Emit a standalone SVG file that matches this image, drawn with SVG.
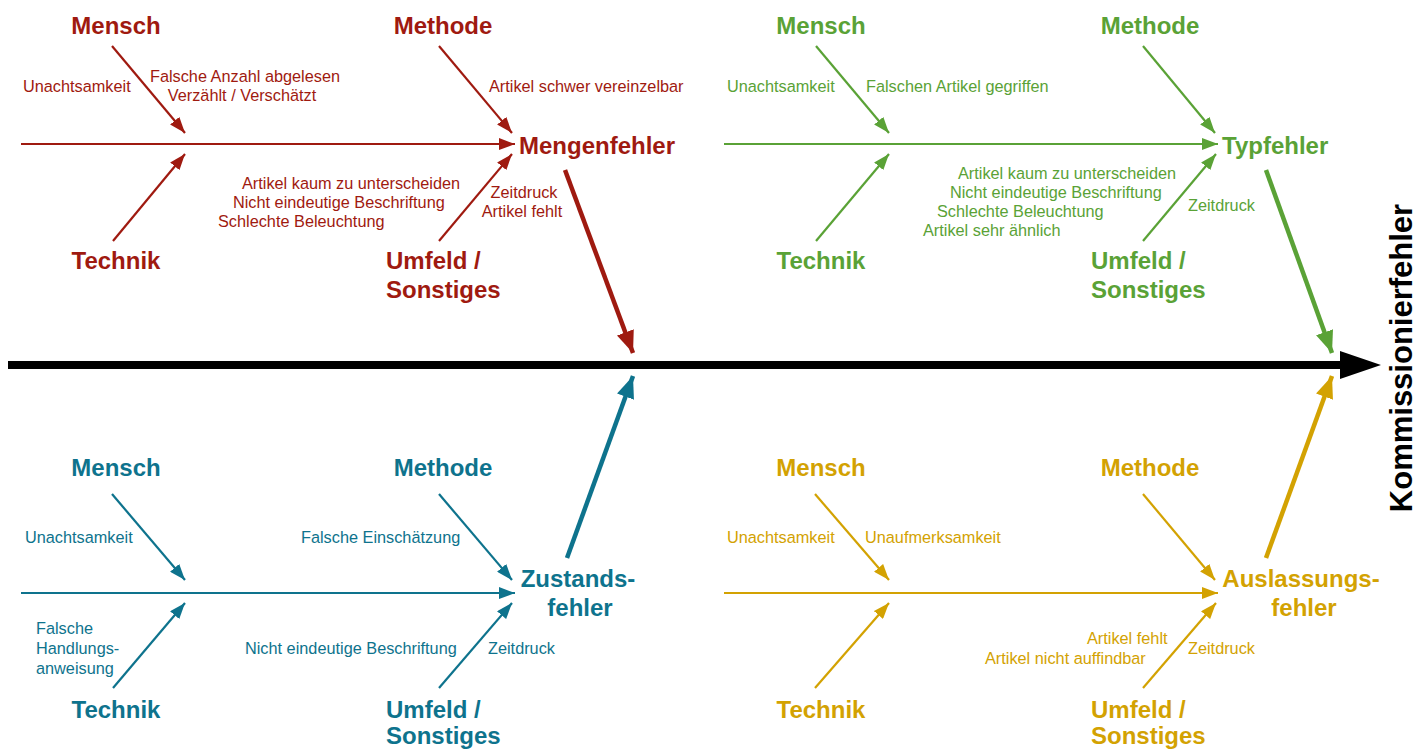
<svg xmlns="http://www.w3.org/2000/svg" width="1427" height="749" viewBox="0 0 1427 749">
<style>
.lbl{font-family:"Liberation Sans",Arial,sans-serif;font-weight:bold;font-size:24px}
.sm{font-family:"Liberation Sans",Arial,sans-serif;font-size:16.3px}
.mid{text-anchor:middle}
.red{fill:#9f1a10}.grn{fill:#5aa236}.tea{fill:#0e738d}.gld{fill:#d3a202}
.lr{stroke:#9f1a10}.lg{stroke:#5aa236}.lt{stroke:#0e738d}.ly{stroke:#d3a202}
.thin{stroke-width:2.2;fill:none}
.thick{stroke-width:4.5;fill:none}
</style>
<defs>
<marker id="ar" markerUnits="userSpaceOnUse" markerWidth="16" markerHeight="12" refX="16" refY="6" orient="auto"><path d="M0,0L16,6L0,12z" fill="#9f1a10"/></marker>
<marker id="ag" markerUnits="userSpaceOnUse" markerWidth="16" markerHeight="12" refX="16" refY="6" orient="auto"><path d="M0,0L16,6L0,12z" fill="#5aa236"/></marker>
<marker id="at" markerUnits="userSpaceOnUse" markerWidth="16" markerHeight="12" refX="16" refY="6" orient="auto"><path d="M0,0L16,6L0,12z" fill="#0e738d"/></marker>
<marker id="ay" markerUnits="userSpaceOnUse" markerWidth="16" markerHeight="12" refX="16" refY="6" orient="auto"><path d="M0,0L16,6L0,12z" fill="#d3a202"/></marker>
<marker id="br" markerUnits="userSpaceOnUse" markerWidth="22" markerHeight="18" refX="22" refY="9" orient="auto"><path d="M0,0L22,9L0,18z" fill="#9f1a10"/></marker>
<marker id="bg" markerUnits="userSpaceOnUse" markerWidth="22" markerHeight="18" refX="22" refY="9" orient="auto"><path d="M0,0L22,9L0,18z" fill="#5aa236"/></marker>
<marker id="bt" markerUnits="userSpaceOnUse" markerWidth="22" markerHeight="18" refX="22" refY="9" orient="auto"><path d="M0,0L22,9L0,18z" fill="#0e738d"/></marker>
<marker id="by" markerUnits="userSpaceOnUse" markerWidth="22" markerHeight="18" refX="22" refY="9" orient="auto"><path d="M0,0L22,9L0,18z" fill="#d3a202"/></marker>
</defs>
<rect width="1427" height="749" fill="#ffffff"/>

<g id="connectors">
  <line class="lr thin" x1="21" y1="144" x2="515" y2="144" marker-end="url(#ar)"/>
  <line class="lr thin" x1="112" y1="46" x2="185" y2="133" marker-end="url(#ar)"/>
  <line class="lr thin" x1="113" y1="241" x2="185" y2="154" marker-end="url(#ar)"/>
  <line class="lr thin" x1="439" y1="46" x2="512" y2="133" marker-end="url(#ar)"/>
  <line class="lr thin" x1="439" y1="241" x2="512" y2="154" marker-end="url(#ar)"/>
  <line class="lr thick" x1="565" y1="170" x2="633" y2="353" marker-end="url(#br)"/>
  <line class="lg thin" x1="724" y1="144" x2="1218" y2="144" marker-end="url(#ag)"/>
  <line class="lg thin" x1="816" y1="46" x2="889" y2="133" marker-end="url(#ag)"/>
  <line class="lg thin" x1="816" y1="241" x2="889" y2="154" marker-end="url(#ag)"/>
  <line class="lg thin" x1="1143" y1="46" x2="1215" y2="133" marker-end="url(#ag)"/>
  <line class="lg thin" x1="1143" y1="241" x2="1216" y2="154" marker-end="url(#ag)"/>
  <line class="lg thick" x1="1266" y1="170" x2="1332" y2="353" marker-end="url(#bg)"/>
  <line class="lt thin" x1="21" y1="593" x2="515" y2="593" marker-end="url(#at)"/>
  <line class="lt thin" x1="112" y1="494" x2="185" y2="580" marker-end="url(#at)"/>
  <line class="lt thin" x1="113" y1="688" x2="185" y2="603" marker-end="url(#at)"/>
  <line class="lt thin" x1="439" y1="494" x2="512" y2="580" marker-end="url(#at)"/>
  <line class="lt thin" x1="439" y1="688" x2="512" y2="603" marker-end="url(#at)"/>
  <line class="lt thick" x1="567" y1="558" x2="633" y2="376" marker-end="url(#bt)"/>
  <line class="ly thin" x1="724" y1="593" x2="1218" y2="593" marker-end="url(#ay)"/>
  <line class="ly thin" x1="815" y1="494" x2="889" y2="580" marker-end="url(#ay)"/>
  <line class="ly thin" x1="815" y1="688" x2="889" y2="603" marker-end="url(#ay)"/>
  <line class="ly thin" x1="1143" y1="494" x2="1215" y2="580" marker-end="url(#ay)"/>
  <line class="ly thin" x1="1143" y1="688" x2="1216" y2="603" marker-end="url(#ay)"/>
  <line class="ly thick" x1="1266" y1="558" x2="1332" y2="376" marker-end="url(#by)"/>
  <line x1="8" y1="365" x2="1344" y2="365" stroke="#000" stroke-width="8"/>
  <polygon points="1340,351 1381,365 1340,379" fill="#000"/>
</g>

<g id="effect">
  <text class="lbl" transform="translate(1412,358) rotate(-90)" text-anchor="middle" style="font-size:31px">Kommissionierfehler</text>
</g>

<g id="mengenfehler">
  <text class="lbl red" x="519" y="154">Mengenfehler</text>
  <text class="lbl red mid" x="116" y="34">Mensch</text>
  <text class="lbl red mid" x="443" y="34">Methode</text>
  <text class="lbl red mid" x="116" y="269">Technik</text>
  <text class="lbl red" x="386" y="269">Umfeld /</text>
  <text class="lbl red" x="386" y="298">Sonstiges</text>
  <text class="sm red" x="23" y="92">Unachtsamkeit</text>
  <text class="sm red mid" x="245" y="82">Falsche Anzahl abgelesen</text>
  <text class="sm red mid" x="242" y="101">Verzählt / Verschätzt</text>
  <text class="sm red" x="489" y="92">Artikel schwer vereinzelbar</text>
  <text class="sm red" x="242" y="189">Artikel kaum zu unterscheiden</text>
  <text class="sm red" x="233" y="208">Nicht eindeutige Beschriftung</text>
  <text class="sm red" x="218" y="227">Schlechte Beleuchtung</text>
  <text class="sm red mid" x="524" y="198">Zeitdruck</text>
  <text class="sm red mid" x="522" y="217">Artikel fehlt</text>
</g>

<g id="typfehler">
  <text class="lbl grn" x="1222" y="154">Typfehler</text>
  <text class="lbl grn mid" x="821" y="34">Mensch</text>
  <text class="lbl grn mid" x="1150" y="34">Methode</text>
  <text class="lbl grn mid" x="821" y="269">Technik</text>
  <text class="lbl grn" x="1091" y="269">Umfeld /</text>
  <text class="lbl grn" x="1091" y="298">Sonstiges</text>
  <text class="sm grn" x="727" y="92">Unachtsamkeit</text>
  <text class="sm grn" x="866" y="92">Falschen Artikel gegriffen</text>
  <text class="sm grn" x="958" y="179">Artikel kaum zu unterscheiden</text>
  <text class="sm grn" x="950" y="198">Nicht eindeutige Beschriftung</text>
  <text class="sm grn" x="937" y="217">Schlechte Beleuchtung</text>
  <text class="sm grn" x="923" y="236">Artikel sehr ähnlich</text>
  <text class="sm grn" x="1188" y="211">Zeitdruck</text>
</g>

<g id="zustandsfehler">
  <text class="lbl tea mid" x="578" y="587">Zustands-</text>
  <text class="lbl tea mid" x="580" y="616">fehler</text>
  <text class="lbl tea mid" x="116" y="476">Mensch</text>
  <text class="lbl tea mid" x="443" y="476">Methode</text>
  <text class="lbl tea mid" x="116" y="718">Technik</text>
  <text class="lbl tea" x="386" y="718">Umfeld /</text>
  <text class="lbl tea" x="386" y="744">Sonstiges</text>
  <text class="sm tea" x="25" y="543">Unachtsamkeit</text>
  <text class="sm tea" x="301" y="543">Falsche Einschätzung</text>
  <text class="sm tea" x="36" y="634">Falsche</text>
  <text class="sm tea" x="36" y="654">Handlungs-</text>
  <text class="sm tea" x="36" y="674">anweisung</text>
  <text class="sm tea" x="245" y="654">Nicht eindeutige Beschriftung</text>
  <text class="sm tea" x="488" y="654">Zeitdruck</text>
</g>

<g id="auslassungsfehler">
  <text class="lbl gld mid" x="1301" y="587">Auslassungs-</text>
  <text class="lbl gld mid" x="1304" y="616">fehler</text>
  <text class="lbl gld mid" x="821" y="476">Mensch</text>
  <text class="lbl gld mid" x="1150" y="476">Methode</text>
  <text class="lbl gld mid" x="821" y="718">Technik</text>
  <text class="lbl gld" x="1091" y="718">Umfeld /</text>
  <text class="lbl gld" x="1091" y="744">Sonstiges</text>
  <text class="sm gld" x="727" y="543">Unachtsamkeit</text>
  <text class="sm gld" x="865" y="543">Unaufmerksamkeit</text>
  <text class="sm gld" x="1087" y="644">Artikel fehlt</text>
  <text class="sm gld" x="985" y="664">Artikel nicht auffindbar</text>
  <text class="sm gld" x="1188" y="654">Zeitdruck</text>
</g>
</svg>
